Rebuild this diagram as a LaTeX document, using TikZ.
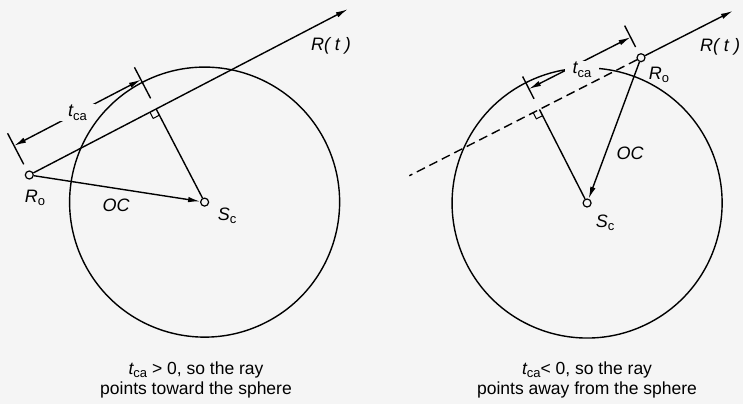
\documentclass[tikz,border=0pt]{standalone}
\usepackage{fontspec}
\setmainfont{Liberation Sans}
\usetikzlibrary{arrows.meta}
\definecolor{paper}{gray}{0.96}
\newcommand{\lowsub}[1]{\raisebox{-3.5pt}{\upshape\fontsize{13}{13}\selectfont #1}}
\newcommand{\tca}{{\itshape t}\lowsub{ca}}
\tikzset{
  pt/.style={draw, circle, fill=paper, minimum size=8pt, inner sep=0pt, line width=1.2pt},
  lbl/.style={font=\fontsize{18}{18}\selectfont\itshape},
  dimlbl/.style={fill=paper, inner xsep=8pt, inner ysep=1pt, font=\fontsize{18}{18}\selectfont},
  capt/.style={align=center, font=\fontsize{17.5}{20.5}\selectfont}
}
\begin{document}
\begin{tikzpicture}[x=1pt, y=-1pt, >={Latex[length=12pt,width=5.5pt]}, line width=1.4pt]
    \fill [paper] (0,0) rectangle (743,404);
    \useasboundingbox (0,0) rectangle (743,404);
    % ray points toward the sphere
    \begin{scope}[shift={(29.3,175)}, rotate=27.5]
    \node [pt] (Ro) at (0,0) {};
    \node [pt] (Sc) at (143,105) {};
    \coordinate (ft) at (143,0);
    \coordinate (tip) at (359,0);
    \coordinate (d1) at (0,-33);
    \coordinate (d2) at (143,-33);
    \draw (Sc) circle [radius=135pt];
    \draw [->] (Ro)--(tip);
    \draw [->] (Ro)--(Sc);
    \draw (ft)--(Sc);
    \draw [line width=1pt] (ft) ++(-7,0) -- ++(0,7) -- ++(7,0);
    \draw (0,-12)--(0,-47);
    \draw (143,-12)--(143,-47);
    \draw [<->] (d1)--node[dimlbl]{\tca}(d2);
    \end{scope}
    % ray points away from the sphere
    \begin{scope}[shift={(641,57.7)}, rotate=27]
    \node [pt] (Ro2) at (0,0) {};
    \node [pt] (Sc2) at (-114,105) {};
    \coordinate (ft2) at (-114,0);
    \coordinate (tip2) at (103,0);
    \coordinate (tail2) at (-260,0);
    \coordinate (e1) at (-114,-23);
    \coordinate (e2) at (0,-23);
    \draw (Sc2) circle [radius=135pt];
    \draw [->] (Ro2)--(tip2);
    \draw [dash pattern=on 9pt off 5pt] (Ro2)--(tail2);
    \draw [->] (Ro2)--(Sc2);
    \draw (ft2)--(Sc2);
    \draw [line width=1pt] (ft2) ++(-7,0) -- ++(0,7) -- ++(7,0);
    \draw (0,-12)--(0,-36);
    \draw (-114,-12)--(-114,-37);
    \draw [<->] (e1)--(e2);
    \node [dimlbl] (tca2) at (-58,-16) {\tca};
    \end{scope}
    \node [lbl] (Rt) at (331,46) {R( t )};
    \node [lbl] (RoL) at (35,198) {R\lowsub{o}};
    \node [lbl] (OC) at (116,205) {OC};
    \node [lbl] (ScL) at (227,216) {S\lowsub{c}};
    \node [lbl] (Rt2) at (720,47) {R( t )};
    \node [lbl] (RoL2) at (659,75) {R\lowsub{o}};
    \node [lbl] (OC2) at (630,153) {OC};
    \node [lbl] (ScL2) at (605,223) {S\lowsub{c}};
    \node [capt] (cap) at (196,380) {\tca\ > 0, so the ray\\points toward the sphere};
    \node [capt] (cap2) at (587,380) {\tca{}< 0, so the ray\\points away from the sphere};
\end{tikzpicture}
\end{document}
